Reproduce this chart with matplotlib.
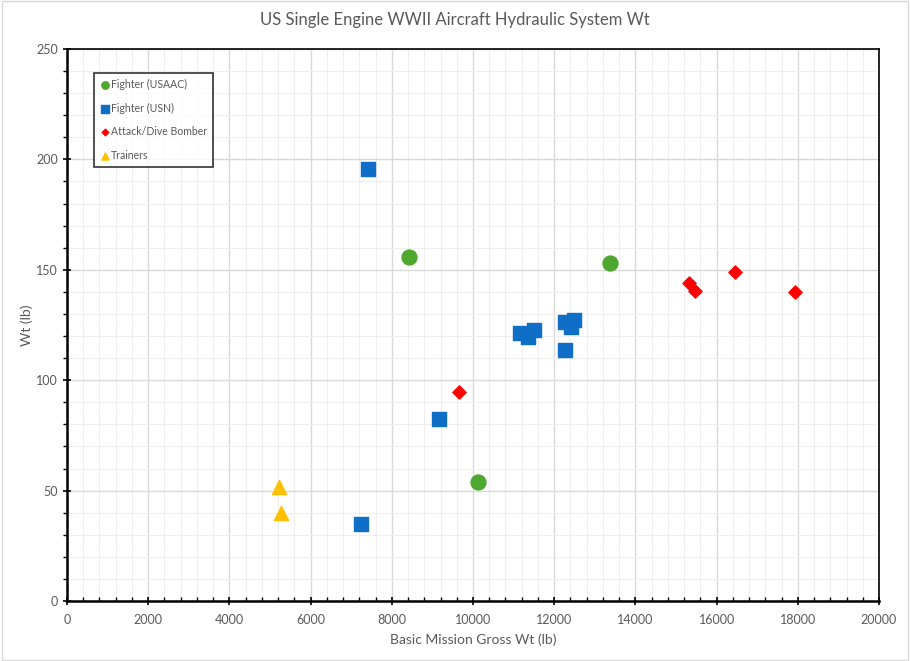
import matplotlib
matplotlib.use("Agg")
import matplotlib.pyplot as plt
from matplotlib.ticker import MultipleLocator
from matplotlib.patches import Rectangle

plt.rcParams['font.family'] = ['Lato', 'DejaVu Sans']

usaac_x = [8420, 13370, 10120]
usaac_y = [156, 153, 54]

usn_x = [7410, 11160, 11355, 11500, 12270, 12270, 12490, 12410, 9160, 7235]
usn_y = [195.5, 121.4, 119.6, 122.7, 113.7, 126.4, 127.3, 124.1, 82.4, 34.7]

atk_x = [9655, 15330, 15470, 16450, 17940]
atk_y = [94.7, 143.9, 140.5, 148.9, 139.8]

trn_x = [5215, 5265]
trn_y = [51.5, 39.7]

title = "US Single Engine WWII Aircraft Hydraulic System Wt"
xlabel = "Basic Mission Gross Wt (lb)"
ylabel = "Wt (lb)"

gray = "#595959"

fig = plt.figure(figsize=(9.1, 6.61), dpi=100)
ax = fig.add_axes([67/910, 60/661, (879-67)/910, (601-49)/661])

ax.set_xlim(0, 20000)
ax.set_ylim(0, 250)
ax.xaxis.set_major_locator(MultipleLocator(2000))
ax.xaxis.set_minor_locator(MultipleLocator(400))
ax.yaxis.set_major_locator(MultipleLocator(50))
ax.yaxis.set_minor_locator(MultipleLocator(10))

ax.grid(which='major', color='#d9d9d9', linewidth=1.0, zorder=0)
ax.grid(which='minor', color='#efefef', linewidth=0.8, zorder=0)
ax.set_axisbelow(True)

for s in ['left', 'bottom']:
    ax.spines[s].set_linewidth(1.8)
    ax.spines[s].set_color('black')
for s in ['top', 'right']:
    ax.spines[s].set_linewidth(1.2)
    ax.spines[s].set_color('black')

ax.tick_params(axis='x', which='major', direction='inout', length=6, width=1.2, colors='black', labelcolor=gray, labelsize=9, pad=6)
ax.tick_params(axis='x', which='minor', direction='in', length=3, width=1.0, colors='black')
ax.tick_params(axis='y', which='major', direction='inout', length=6, width=1.2, colors='black', labelcolor=gray, labelsize=9)
ax.tick_params(axis='y', which='minor', direction='out', length=3, width=1.0, colors='black')

ax.scatter(usaac_x, usaac_y, marker='o', s=115, color='#4ea72e', label='Fighter (USAAC)', zorder=3)
ax.scatter(usn_x, usn_y, marker='s', s=115, color='#0f6fc6', label='Fighter (USN)', zorder=3)
ax.scatter(atk_x, atk_y, marker='D', s=45, color='#ff0000', label='Attack/Dive Bomber', zorder=3)
ax.scatter(trn_x, trn_y, marker='^', s=105, color='#ffc000', label='Trainers', zorder=3)

leg = ax.legend(loc='upper left', bbox_to_anchor=(27/812, 1 - 24/552), borderaxespad=0,
                frameon=True, fancybox=False,
                edgecolor='black', fontsize=7.6, labelcolor=gray, markerscale=0.5,
                handletextpad=0.05, labelspacing=1.2, borderpad=0.55, handlelength=1.0)
leg.get_frame().set_linewidth(1.2)

ax.set_xlabel(xlabel, color=gray, fontsize=10, labelpad=6)
ax.set_ylabel(ylabel, color=gray, fontsize=10, labelpad=2)
fig.text(0.5, 1 - 20/661, title, ha='center', va='center', fontsize=12, color=gray)

fig.patches.append(Rectangle((0.002, 0.002), 0.996, 0.996, transform=fig.transFigure,
                             fill=False, edgecolor='#d9d9d9', linewidth=1))

fig.savefig('out.png', dpi=100)
